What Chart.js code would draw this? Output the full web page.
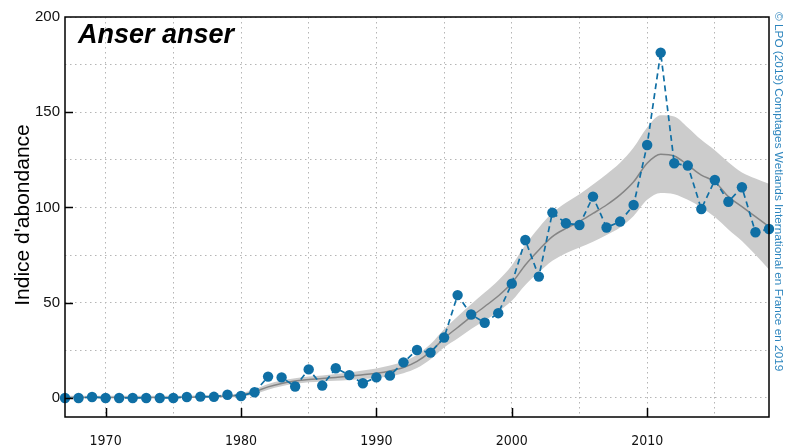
<!DOCTYPE html>
<html>
<head>
<meta charset="utf-8">
<script src="https://cdn.jsdelivr.net/npm/chart.js@4/dist/chart.umd.min.js"></script>
<style>
  html, body { margin: 0; padding: 0; background: #ffffff; }
  #wrap { width: 789px; height: 448px; position: relative; }
</style>
</head>
<body>
<div id="wrap"><canvas id="c" width="789" height="448"></canvas></div>
<script>
const years = [1967,1968,1969,1970,1971,1972,1973,1974,1975,1976,1977,1978,1979,1980,1981,1982,1983,1984,1985,1986,1987,1988,1989,1990,1991,1992,1993,1994,1995,1996,1997,1998,1999,2000,2001,2002,2003,2004,2005,2006,2007,2008,2009,2010,2011,2012,2013,2014,2015,2016,2017,2018,2019];
const observed = [0,0,0.5,0,0,0,0,0,0,0.5,0.7,0.6,1.7,1,3,11.2,10.8,6,15,6.5,15.6,12,7.7,10.8,11.7,18.7,25.2,23.8,31.7,54,43.8,39.5,44.5,60,82.9,63.7,97.3,91.7,90.8,105.7,89.5,92.6,101.3,132.8,181.3,123.2,122,99.2,114.4,103,110.6,87,88.7];
const trend = [0.3,0.3,0.3,0.3,0.3,0.3,0.3,0.3,0.3,0.4,0.5,0.7,1.0,1.6,3.3,5.8,7.6,8.9,9.7,10.2,10.8,11.4,12.2,13.0,14.2,16.0,19.2,24.3,31.3,37,42.7,48,53.5,60.3,69.8,77.7,84.7,89,92.6,96.9,101.3,106.6,113.5,123.2,127.9,127,122.3,117,113.5,105.7,100.4,95.2,90];
const upper = [1.1,1.1,1.1,1.1,1.1,1.1,1.1,1.1,1.1,1.2,1.3,1.5,1.8,2.6,4.5,7.3,9.1,10.4,11.2,11.8,12.6,13.4,14.4,15.5,17.0,19.2,22.7,28.3,36.1,42.8,49.2,55.3,61.7,69.6,80.3,89.4,97.2,102.5,107,112,117.5,123.5,131.5,142,148.4,147.8,142,135.5,130,123.7,118.4,115.2,112.5];
const lower = [0,0,0,0,0,0,0,0,0,0,0,0,0.2,0.6,2.1,4.3,6.1,7.4,8.2,8.7,9.0,9.4,10.0,10.5,11.4,13.0,15.7,20.3,26.5,31.2,36.2,40.7,45.3,51.0,59.3,66.0,72,76,79,82,85.5,89.5,95.5,104,107.6,107,104,100,95,88.5,82.4,75.2,67.5];
const xTickLabels = [1970,1980,1990,2000,2010];
const yTickLabels = [0,50,100,150];
const title = 'Anser anser';
const yTitle = "Indice d'abondance";
const credit = '© LPO (2019) Comptages Wetlands International en France en 2019';

const pts = arr => years.map((y, i) => ({x: y, y: arr[i]}));
const BLUE = '#0f6fa5';

const decor = {
  id: 'decor',
  afterDraw(chart) {
    const {ctx, chartArea: a, scales: {x, y}} = chart;
    ctx.save();
    ctx.strokeStyle = '#000';
    ctx.lineWidth = 1.5;
    ctx.strokeRect(a.left, a.top, a.right - a.left, a.bottom - a.top);
    ctx.beginPath();
    xTickLabels.forEach(v => {
      const px = Math.round(x.getPixelForValue(v)) + 0.5;
      ctx.moveTo(px, a.bottom); ctx.lineTo(px, a.bottom - 9);
    });
    yTickLabels.forEach(v => {
      const py = Math.round(y.getPixelForValue(v)) + 0.5;
      ctx.moveTo(a.left, py); ctx.lineTo(a.left + 8, py);
    });
    ctx.stroke();
    ctx.fillStyle = '#000';
    ctx.font = 'italic bold 27px "Liberation Sans", Arial, sans-serif';
    ctx.textAlign = 'left';
    ctx.textBaseline = 'alphabetic';
    ctx.fillText(title, a.left + 13, a.top + 26);
    ctx.save();
    ctx.translate(29, (a.top + a.bottom) / 2 - 2);
    ctx.rotate(-Math.PI / 2);
    ctx.textAlign = 'center';
    ctx.font = '21px "Liberation Sans", Arial, sans-serif';
    ctx.fillText(yTitle, 0, 0);
    ctx.restore();
    ctx.save();
    ctx.translate(775, 12);
    ctx.rotate(Math.PI / 2);
    ctx.textAlign = 'left';
    ctx.fillStyle = '#2b84bd';
    ctx.font = '11.8px "Liberation Sans", Arial, sans-serif';
    ctx.fillText(credit, 0, 0);
    ctx.restore();
    ctx.restore();
  }
};

new Chart(document.getElementById('c'), {
  type: 'line',
  data: {
    datasets: [
      { label: 'upper', order: 4, data: pts(upper), borderWidth: 0, pointRadius: 0, fill: '+1', backgroundColor: '#cccccc', borderColor: 'rgba(0,0,0,0)', cubicInterpolationMode: 'monotone' },
      { label: 'lower', order: 3, data: pts(lower), borderWidth: 0, pointRadius: 0, fill: false, borderColor: 'rgba(0,0,0,0)', cubicInterpolationMode: 'monotone' },
      { label: 'trend', order: 2, data: pts(trend), borderWidth: 1.5, borderColor: '#858585', pointRadius: 0, fill: false, cubicInterpolationMode: 'monotone' },
      { label: 'observed', order: 1, data: pts(observed), borderWidth: 1.7, borderColor: BLUE, borderDash: [6, 4], pointRadius: 5.2, pointBackgroundColor: BLUE, pointBorderColor: BLUE, pointBorderWidth: 0, fill: false, tension: 0 }
    ]
  },
  options: {
    responsive: false,
    animation: false,
    events: [],
    clip: false,
    layout: { padding: { left: 0, right: 20, top: 17, bottom: 0 } },
    plugins: { legend: { display: false }, tooltip: { enabled: false }, title: { display: false }, filler: { drawTime: 'beforeDatasetsDraw' } },
    scales: {
      x: {
        type: 'linear', min: 1967, max: 2019,
        afterFit: s => { s.height = 31; },
        ticks: { stepSize: 5, includeBounds: false, padding: 16, maxRotation: 0, autoSkip: false,
          color: '#111', font: { family: '"Liberation Sans Narrow", "DejaVu Sans Condensed", sans-serif', size: 14 },
          callback: v => (xTickLabels.includes(v) ? String(v) : '') },
        grid: { color: '#b5b5b5', lineWidth: 1, drawTicks: false },
        border: { display: false, dash: [1.5, 3.5] }
      },
      y: {
        min: -10, max: 200,
        afterFit: s => { s.width = 65; },
        ticks: { stepSize: 25, includeBounds: false, padding: 5,
          color: '#111', font: { family: '"Liberation Sans", Arial, sans-serif', size: 15 },
          callback: v => (v % 50 === 0 ? String(v) : '') },
        grid: { color: '#b5b5b5', lineWidth: 1, drawTicks: false },
        border: { display: false, dash: [1.5, 3.5] }
      }
    }
  },
  plugins: [decor]
});
</script>
</body>
</html>
